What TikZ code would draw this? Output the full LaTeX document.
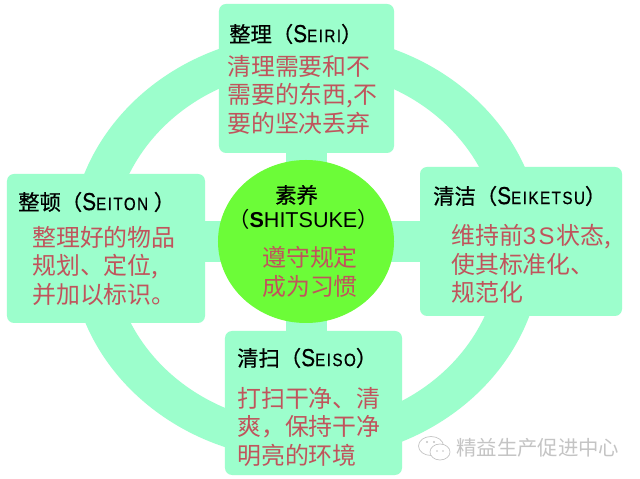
\documentclass[tikz,border=0pt]{standalone}
\usepackage{fontspec}
\usetikzlibrary{shapes.geometric}
\setmainfont{Liberation Sans}
\newfontfamily\cjk{Noto Sans CJK SC}
\newfontfamily\cjkhead[FakeBold=0.7]{Noto Sans CJK SC}
\newfontfamily\capsfont[FakeStretch=0.85,LetterSpace=8,FakeBold=0.5]{Liberation Sans}
\definecolor{RingGreen}{RGB}{156,254,204}
\definecolor{CoreGreen}{RGB}{108,252,56}
\definecolor{NoteRed}{RGB}{192,84,92}
\definecolor{MarkGray}{RGB}{196,196,196}
\newcommand{\capname}[1]{{\capsfont\fontsize{21}{24}\selectfont S\fontsize{15.3}{20}\selectfont #1}}
\tikzset{
  card/.style={fill=RingGreen,rounded corners=6pt,inner sep=0pt},
  headtxt/.style={anchor=west,inner sep=0pt,black,font=\cjkhead\fontsize{18.2}{22}\selectfont},
  notetxt/.style={anchor=north west,inner sep=0pt,align=left,NoteRed,font=\cjk\fontsize{20.4}{24.4}\selectfont}
}

\begin{document}
\begin{tikzpicture}[x=0.03cm,y=0.03cm]
      \useasboundingbox (0,0) rectangle (640,479);
      \fill[white] (0,0) rectangle (640,479);
      \coordinate (O) at (306,232);
      % ring and cross
      \fill[RingGreen,even odd rule] (O) ellipse (236 and 213) (O) ellipse (194 and 177);
      \fill[RingGreen] (286,140) rectangle (327,336);
      \fill[RingGreen] (200,217) rectangle (425,258);
      % boxes
      \node[card,minimum width=5.25cm,minimum height=4.47cm] (seiri) at (306.5,400.5) {};
      \node[card,minimum width=5.94cm,minimum height=4.47cm] (seiton) at (106,230.5) {};
      \node[card,minimum width=6.06cm,minimum height=4.47cm] (seiketsu) at (521,237.5) {};
      \node[card,minimum width=5.31cm,minimum height=4.32cm] (seiso) at (313.5,76) {};
      \node[ellipse,fill=CoreGreen,minimum width=5.28cm,minimum height=4.89cm,inner sep=0pt] (shitsuke) at (306,237.5) {};
      % top
      \node[headtxt] (seirihead) at (229,445) {整理（\capname{EIRI}）};
      \node[notetxt] (seirinote) at (227,424) {清理需要和不\\需要的东西,不\\要的坚决丢弃};
      % left
      \node[headtxt] (seitonhead) at (18,277) {整顿（\capname{EITON }）};
      \node[notetxt] (seitonnote) at (32,253) {整理好的物品\\规划、定位,\\并加以标识。};
      % right
      \node[headtxt] (seiketsuhead) at (433,283) {清洁（\capname{EIKETSU}）};
      \node[notetxt] (seiketsunote) at (451,255) {维持前{\rmfamily 3\kern2pt S\kern2pt}状态,\\使其标准化、\\规范化};
      % bottom
      \node[headtxt] (seisohead) at (237,121) {清扫（\capname{EISO}）};
      \node[notetxt] (seisonote) at (237,92) {打扫干净、清\\爽，保持干净\\明亮的环境};
      % centre
      \node[headtxt] (corehead) at (275,284) {素养};
      \node[anchor=west,inner sep=0pt,font=\cjk\fontsize{18.2}{22}\selectfont] (corename) at (228,260) {（{\rmfamily\fontsize{18.4}{22}\selectfont\textbf{S}HITSUKE}）};
      \node[notetxt] (corenote) at (262,233) {遵守规定\\成为习惯};
      % mark
      \draw[MarkGray,line width=0.6pt,fill=white] (431,33) ellipse (12.5 and 9.5);
      \draw[MarkGray,line width=0.6pt,fill=white] (440,27) ellipse (10 and 8);
      \fill[MarkGray] (427,37) circle (1.2) (434,37) circle (1.2) (437,28) circle (0.9) (443,28) circle (0.9);
      \node[anchor=west,inner sep=0pt,MarkGray,font=\cjk\fontsize{17.4}{20}\selectfont] (marktxt) at (456,31) {精益生产促进中心};
    \end{tikzpicture}
\end{document}
